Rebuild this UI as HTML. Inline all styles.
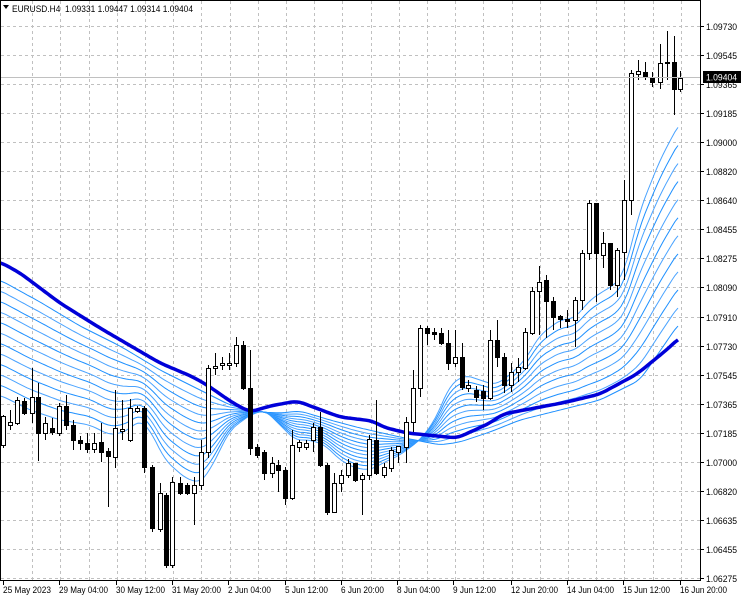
<!DOCTYPE html>
<html><head><meta charset="utf-8"><style>
html,body{margin:0;padding:0;background:#fff;}
svg{display:block;font-family:"Liberation Sans",sans-serif;}
</style></head><body>
<svg id="s" width="741" height="600" viewBox="0 0 741 600" xmlns="http://www.w3.org/2000/svg">
<g id="grid" stroke="#c0c0c0" stroke-width="1" stroke-dasharray="3,3"></g>
<g id="ma"></g>
<g id="cd"></g>
<line x1="0" y1="77.5" x2="700" y2="77.5" stroke="#c0c0c0"/>
<rect x="0.5" y="0.5" width="700" height="580" fill="none" stroke="#000"/>
<g font-size="9.5" fill="#000" lengthAdjust="spacingAndGlyphs">
<text x="12" y="12" textLength="181" lengthAdjust="spacingAndGlyphs">EURUSD.H4&#160; 1.09331 1.09447 1.09314 1.09404</text>
</g>
<g font-size="9.5" fill="#000" id="rl"></g>
<rect x="703" y="71" width="38" height="12" fill="#000"/>
<text x="706" y="80.5" font-size="9.5" fill="#fff" textLength="31" lengthAdjust="spacingAndGlyphs">1.09404</text>
<polygon points="3,5 9,5 6,9" fill="#000"/>
<g font-size="9.5" fill="#000" id="bl"></g>
<g id="tk" stroke="#000"></g>
</svg>
<script>
var NS="http://www.w3.org/2000/svg";
function el(p,t,a,txt){var e=document.createElementNS(NS,t);for(var k in a)e.setAttribute(k,a[k]);if(txt)e.textContent=txt;p.appendChild(e);return e;}
var g=document.getElementById('grid');
for(var k=1;k<25;k++){var x=Math.round(4+28.2*k)+0.5;el(g,'line',{x1:x,y1:1,x2:x,y2:580});}
for(var k=0;k<20;k++){var y=Math.round(26+29.05*k)+0.5;el(g,'line',{x1:1,y1:y,x2:700,y2:y});}
var tk=document.getElementById('tk');
for(var k=0;k<20;k++){var y=Math.round(26+29.05*k)+0.5;el(tk,'line',{x1:700,y1:y,x2:704,y2:y});}
var prices=["1.09730","1.09545","1.09365","1.09185","1.09000","1.08820","1.08640","1.08455","1.08275","1.08090","1.07910","1.07730","1.07545","1.07365","1.07185","1.07000","1.06820","1.06635","1.06455","1.06275"];
var rl=document.getElementById('rl');
prices.forEach(function(p,k){if(k==2){}el(rl,'text',{x:706,y:(Math.round(26+29.05*k)+4).toString(),textLength:31,lengthAdjust:'spacingAndGlyphs'},p);});
var BL=[[3,"25 May 2023",48],[59,"29 May 04:00",49],[116,"30 May 12:00",49],[172,"31 May 20:00",49],[228,"2 Jun 04:00",43],[285,"5 Jun 12:00",43],[341,"6 Jun 20:00",43],[397,"8 Jun 04:00",43],[453,"9 Jun 12:00",43],[511,"12 Jun 20:00",47],[567,"14 Jun 04:00",47],[623,"15 Jun 12:00",47],[680,"16 Jun 20:00",47]];
var bl=document.getElementById('bl');
BL.forEach(function(b){el(bl,'text',{x:b[0],y:593,textLength:b[2],lengthAdjust:'spacingAndGlyphs'},b[1]);el(tk,'line',{x1:b[0]+0.5,y1:581,x2:b[0]+0.5,y2:585});});
function lerp(pts,x){for(var i=0;i<pts.length-1;i++){if(x<=pts[i+1][0]){var a=pts[i],b=pts[i+1];return a[1]+(b[1]-a[1])*(x-a[0])/(b[0]-a[0]);}}return pts[pts.length-1][1];}
var fast=[[0,395],[30,410],[60,420],[90,425],[110,435],[125,432],[140,420],[150,430],[165,460],[185,478],[200,483],[210,470],[230,430],[250,415],[265,410],[280,425],[295,440],[310,440],[325,445],[340,460],[355,468],[370,470],[385,462],[400,455],[420,440],[435,420],[450,385],[465,375],[480,380],[495,385],[510,375],[525,360],[540,335],[560,320],[575,318],[590,300],[605,290],[615,285],[625,270],[640,210],[660,160],[680,122]];
var slow=[[0,280],[40,302],[80,326],[120,346],[160,370],[200,390],[230,405],[260,412],[280,413],[300,411],[330,420],[360,428],[400,437],[440,445],[460,442],[490,432],[520,420],[560,410],[600,400],[640,380],[680,322]];
var thick=[[0,262],[20,273],[60,303],[100,328],[160,363],[193,377],[207,385],[233,403],[250,412],[270,406],[297,401],[340,417],[373,421],[383,427],[407,433],[457,438],[490,423],[503,414],[567,402],[600,394],[637,374],[670,347],[680,337]];
function smooth(pts,x){var s=0,n=0;for(var d=-6;d<=6;d+=2){s+=lerp(pts,Math.max(0,Math.min(680,x+d)));n++;}return s/n;}
var ma=document.getElementById('ma');var N=12;
for(var i=0;i<N;i++){var f=i/(N-1);var d='';
 for(var x=0;x<=680;x+=3){var y=smooth(fast,x)*(1-f)+smooth(slow,x)*f;d+=(x?'L':'M')+x+','+y.toFixed(1);}
 el(ma,'path',{d:d,fill:'none',stroke:i%2?'#1e90ff':'#4aa3ff','stroke-width':1});}
var d='';for(var x=0;x<=680;x+=3){d+=(x?'L':'M')+x+','+smooth(thick,x).toFixed(1);}
el(ma,'path',{d:d,fill:'none',stroke:'#0000d8','stroke-width':3.5,'stroke-linejoin':'round'});
var C=[[3,416,445,415,448,'w'],[10,422,425,410,430,'w'],[17,400,423,397,425,'w'],[24,401,413,398,415,'b'],[32,397,413,368,423,'w'],[38,397,433,383,461,'b'],[45,423,433,417,440,'w'],[52,428,432,418,435,'b'],[59,406,433,403,436,'w'],[66,406,425,395,430,'b'],[73,425,440,420,450,'b'],[80,440,443,436,450,'b'],[87,443,449,433,453,'b'],[94,443,449,433,453,'w'],[101,442,452,423,462,'b'],[108,451,456,448,507,'b'],[115,428,457,390,468,'w'],[122,429,431,400,440,'w'],[130,408,440,399,442,'w'],[137,408,411,406,413,'w'],[144,408,467,406,473,'b'],[152,467,528,465,532,'b'],[160,493,529,483,532,'w'],[166,495,565,493,568,'b'],[172,482,565,477,568,'w'],[180,483,493,477,495,'b'],[187,485,493,483,495,'b'],[194,485,493,477,525,'w'],[201,452,485,440,490,'w'],[208,368,452,365,458,'w'],[215,366,368,353,375,'w'],[222,363,365,357,370,'w'],[229,363,365,353,370,'w'],[236,345,363,337,367,'w'],[243,345,388,341,390,'b'],[250,388,448,350,455,'b'],[257,447,455,444,458,'b'],[264,452,473,450,480,'b'],[272,463,473,457,478,'w'],[278,465,470,460,492,'b'],[285,470,498,467,505,'b'],[292,445,498,430,500,'w'],[299,442,447,440,452,'w'],[306,443,447,440,450,'w'],[313,427,440,423,452,'w'],[320,427,465,412,467,'b'],[327,465,512,463,515,'b'],[334,483,512,473,513,'w'],[341,475,483,470,492,'w'],[348,463,475,459,478,'w'],[355,463,480,463,482,'b'],[362,475,479,473,515,'w'],[369,439,475,435,480,'w'],[376,440,473,400,475,'b'],[384,467,475,463,478,'w'],[391,450,468,447,472,'w'],[398,446,452,446,463,'w'],[406,422,447,417,463,'w'],[413,388,422,370,432,'w'],[420,328,388,325,397,'w'],[427,328,333,326,345,'b'],[434,332,334,328,340,'b'],[441,333,343,328,345,'b'],[448,343,363,330,370,'b'],[455,357,363,330,367,'w'],[462,357,387,343,390,'b'],[468,385,388,380,392,'w'],[476,390,397,386,402,'b'],[483,391,398,385,410,'b'],[490,340,398,330,400,'w'],[497,340,357,320,367,'b'],[504,357,385,353,393,'b'],[511,372,385,363,392,'w'],[518,367,372,358,382,'w'],[525,332,368,328,370,'w'],[532,291,333,287,335,'w'],[539,282,291,266,335,'w'],[546,280,301,275,338,'b'],[553,301,317,297,330,'b'],[560,316,319,315,328,'b'],[567,319,321,310,328,'b'],[575,300,320,297,347,'w'],[582,253,300,250,310,'w'],[589,203,253,200,260,'w'],[596,203,253,203,302,'b'],[603,243,255,232,268,'w'],[610,243,285,243,290,'b'],[617,250,285,248,297,'w'],[624,200,252,180,280,'w'],[631,73,200,70,215,'w'],[638,71,74,60,80,'w'],[645,72,76,62,80,'b'],[652,77,82,72,87,'b'],[660,63,82,44,89,'w'],[667,62,63,31,80,'b'],[674,62,89,36,115,'b'],[680,78,89,71,92,'w']];
var cd=document.getElementById('cd');
C.forEach(function(c){var x=c[0];
 el(cd,'line',{x1:x+0.5,y1:c[3],x2:x+0.5,y2:c[4],stroke:'#000'});
 var h=Math.max(1,c[2]-c[1]);
 el(cd,'rect',{x:x-1.5,y:c[1]+0.5,width:4,height:h,fill:c[5]=='b'?'#000':'#fff',stroke:'#000','stroke-width':1});});
</script>
</body></html>
